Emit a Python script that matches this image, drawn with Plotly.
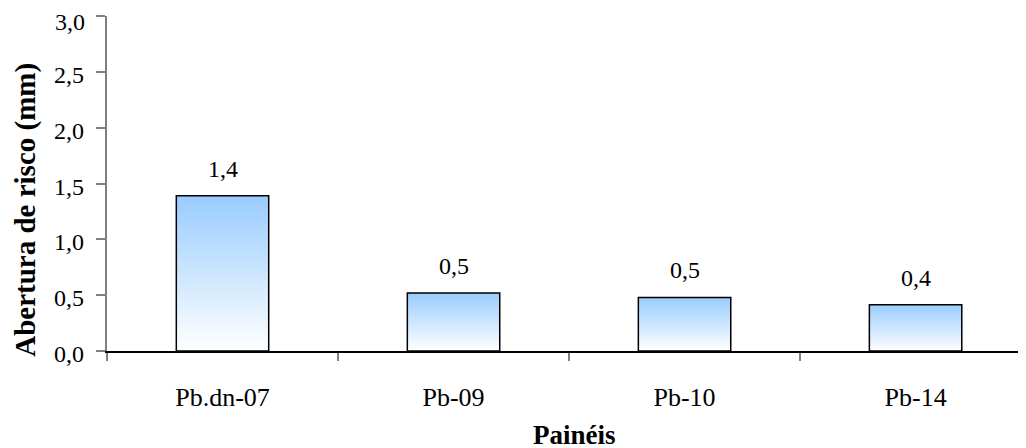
import base64
import plotly.graph_objects as go

categories = ["Pb.dn-07", "Pb-09", "Pb-10", "Pb-14"]
values = [1.39, 0.52, 0.48, 0.415]
y_ticks = [0.0, 0.5, 1.0, 1.5, 2.0, 2.5, 3.0]
y_title = "Abertura de risco (mm)"
x_title = "Painéis"

FONT = "Liberation Serif"
BAR_W = 0.4
Y_MAX = 3.0


def fmt(v):
    return f"{v:.1f}".replace(".", ",")


svg = (
    '<svg xmlns="http://www.w3.org/2000/svg" width="10" height="100" preserveAspectRatio="none" viewBox="0 0 10 100">'
    '<defs><linearGradient id="g" x1="0" y1="0" x2="0" y2="1">'
    '<stop offset="0" stop-color="#99CCFF"/><stop offset="1" stop-color="#FFFFFF"/>'
    '</linearGradient></defs><rect width="10" height="100" fill="url(#g)"/></svg>'
)
src = "data:image/svg+xml;base64," + base64.b64encode(svg.encode()).decode()

fig = go.Figure()
fig.add_trace(go.Bar(
    x=categories, y=values, width=BAR_W,
    marker=dict(color="rgba(0,0,0,0)", line=dict(color="black", width=1.5)),
    hoverinfo="x+y",
))

images = []
annotations = []
for i, v in enumerate(values):
    images.append(dict(
        source=src, xref="x", yref="y", x=i, y=v, sizex=BAR_W, sizey=v,
        xanchor="center", yanchor="top", sizing="stretch", layer="below",
    ))
    annotations.append(dict(
        x=i, y=v, xref="x", yref="y", text=fmt(v),
        showarrow=False, yanchor="middle", yshift=27,
        font=dict(family=FONT, size=24, color="black"),
    ))

# y tick labels drawn as text; the top one is anchored at the page top edge
for t in y_ticks:
    if t >= Y_MAX:
        annotations.append(dict(
            x=0, y=t, xref="paper", yref="y", text=fmt(t),
            showarrow=False, xanchor="right", yanchor="top", xshift=-21, yshift=8,
            borderpad=0, font=dict(family=FONT, size=24, color="black"),
        ))
    else:
        annotations.append(dict(
            x=0, y=t, xref="paper", yref="y", text=fmt(t),
            showarrow=False, xanchor="right", yanchor="middle", xshift=-21, yshift=-3,
            font=dict(family=FONT, size=24, color="black"),
        ))

annotations.append(dict(
    x=0, y=0.42, xref="paper", yref="paper", text=f"<b>{y_title}</b>",
    textangle=-90, showarrow=False, xanchor="left", yanchor="middle", xshift=-99,
    borderpad=0, font=dict(family=FONT, size=29, color="black"),
))
annotations.append(dict(
    x=0.509, y=0, xref="paper", yref="paper", text=f"<b>{x_title}</b>",
    showarrow=False, xanchor="center", yanchor="middle", yshift=-84,
    font=dict(family=FONT, size=27, color="black"),
))

fig.update_layout(
    width=1026, height=448,
    margin=dict(l=99, r=8, t=8, b=105, autoexpand=False),
    paper_bgcolor="white", plot_bgcolor="white",
    showlegend=False,
    images=images,
    annotations=annotations,
    font=dict(family=FONT, size=24, color="black"),
)
fig.update_xaxes(
    type="category", range=[-0.5, 3.478], tickson="boundaries", automargin=False,
    ticks="outside", ticklen=8, tickcolor="#808080", tickwidth=1.5,
    showline=True, linecolor="black", linewidth=1.5,
    showgrid=False, zeroline=False,
    tickfont=dict(family=FONT, size=26, color="black"),
    ticklabelstandoff=22,
)
fig.update_yaxes(
    range=[0, Y_MAX], tickvals=y_ticks, showticklabels=False, automargin=False,
    ticks="outside", ticklen=9, tickcolor="#808080", tickwidth=1.5,
    showline=True, linecolor="#808080", linewidth=1.5,
    showgrid=False, zeroline=False,
)

fig.write_html("out.html")
